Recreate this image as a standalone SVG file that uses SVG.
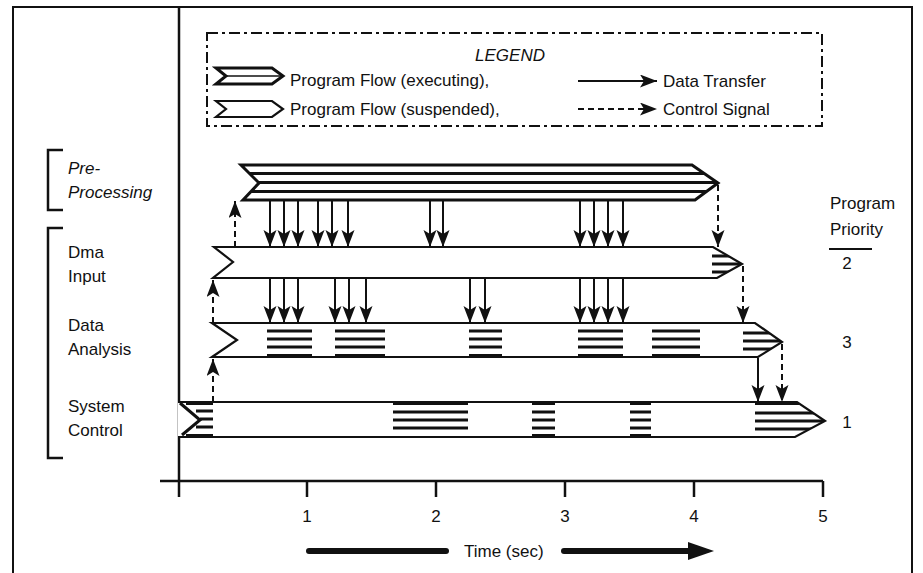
<svg xmlns="http://www.w3.org/2000/svg" width="923" height="573" viewBox="0 0 923 573">
<style>
  text { font-family: "Liberation Sans", Arial, sans-serif; font-size: 17px; fill: #111; }
  .it { font-style: italic; }
  .mid { text-anchor: middle; }
  .frame { fill: none; stroke: #111; stroke-width: 2; }
  .exec { fill: #fff; stroke: #111; stroke-width: 3; stroke-linejoin: miter; }
  .susp { fill: #fff; stroke: #111; stroke-width: 2.2; stroke-linejoin: miter; }
  .stripe { stroke: #111; stroke-width: 3.2; }
  .data { stroke: #111; stroke-width: 2; fill: none; marker-end: url(#head); }
  .ctrl { stroke: #111; stroke-width: 2; fill: none; stroke-dasharray: 6 4; marker-end: url(#head); }
  .legendbox { fill: none; stroke: #111; stroke-width: 2; stroke-dasharray: 11 4 3 4; }
</style>
<defs>
  <marker id="head" markerUnits="userSpaceOnUse" markerWidth="18" markerHeight="14" refX="17" refY="6.5" orient="auto">
    <path d="M0,0 L17,6.5 L0,13 L4,6.5 Z" fill="#111"/>
  </marker>
  <clipPath id="cPre"><path d="M241,165 L692,165 L718,183 L695,200 L243,200 L259,183 Z"/></clipPath>
  <clipPath id="cDma"><path d="M214,247 L713,247 L742,264 L717,278 L213,278 L233,262 Z"/></clipPath>
  <clipPath id="cDa"><path d="M212,323 L755,323 L782,342 L758,357 L212,357 L237,340 Z"/></clipPath>
  <clipPath id="cSc"><path d="M178,402 L797,402 L825,421 L795,437 L178,437 Z"/></clipPath>
  <clipPath id="cLeg"><path d="M216,68 L272,68 L283,76 L272,84 L216,84 L226,76 Z"/></clipPath>
</defs>

<!-- outer frame and axes -->
<g id="frame">
  <path class="frame" d="M13,580 L13,7 L912,7 L912,580"/>
  <line x1="179" y1="7" x2="179" y2="497" stroke="#111" stroke-width="2.5"/>
  <line x1="160" y1="481" x2="823" y2="481" stroke="#111" stroke-width="2.5"/>
  <g stroke="#111" stroke-width="2.5">
    <line x1="307" y1="481" x2="307" y2="497"/>
    <line x1="436" y1="481" x2="436" y2="497"/>
    <line x1="565" y1="481" x2="565" y2="497"/>
    <line x1="694" y1="481" x2="694" y2="497"/>
    <line x1="823" y1="481" x2="823" y2="497"/>
  </g>
  <text class="mid" x="307" y="522">1</text>
  <text class="mid" x="436" y="522">2</text>
  <text class="mid" x="565" y="522">3</text>
  <text class="mid" x="694" y="522">4</text>
  <text class="mid" x="823" y="522">5</text>
</g>

<!-- time arrow -->
<g id="time">
  <line x1="309" y1="551" x2="446" y2="551" stroke="#111" stroke-width="6" stroke-linecap="round"/>
  <text x="464" y="557">Time (sec)</text>
  <line x1="564" y1="551" x2="694" y2="551" stroke="#111" stroke-width="6" stroke-linecap="round"/>
  <path d="M688,542 L714,551 L688,560 Z" fill="#111"/>
</g>

<!-- legend -->
<g id="legend">
  <rect class="legendbox" x="207" y="33" width="615" height="93"/>
  <text class="it mid" x="510" y="61">LEGEND</text>
  <path class="exec" d="M216,68 L272,68 L283,76 L272,84 L216,84 L226,76 Z"/>
  <g clip-path="url(#cLeg)"><line x1="210" y1="76" x2="290" y2="76" stroke="#111" stroke-width="1.5"/></g>
  <text x="290" y="86">Program Flow (executing),</text>
  <path class="susp" d="M216,101 L272,101 L283,109 L272,117 L216,117 L226,109 Z"/>
  <text x="290" y="115">Program Flow (suspended),</text>
  <line class="data" x1="578" y1="81" x2="657" y2="81"/>
  <text x="663" y="87">Data Transfer</text>
  <line class="ctrl" x1="578" y1="109" x2="657" y2="109"/>
  <text x="663" y="115">Control Signal</text>
</g>

<!-- left labels -->
<g id="label-pre">
  <path d="M63,150 L48,150 L48,210 L63,210" fill="none" stroke="#111" stroke-width="2.5"/>
  <text class="it" x="68" y="174">Pre-</text>
  <text class="it" x="68" y="198">Processing</text>
</g>
<g id="label-proc">
  <path d="M63,228 L48,228 L48,458 L63,458" fill="none" stroke="#111" stroke-width="2.5"/>
  <text x="68" y="258">Dma</text>
  <text x="68" y="282">Input</text>
  <text x="68" y="331">Data</text>
  <text x="68" y="355">Analysis</text>
  <text x="68" y="412">System</text>
  <text x="68" y="436">Control</text>
</g>

<!-- right labels -->
<g id="priority">
  <text x="830" y="209">Program</text>
  <text x="830" y="235">Priority</text>
  <line x1="829" y1="249" x2="872" y2="249" stroke="#111" stroke-width="2"/>
  <text class="mid" x="847" y="269">2</text>
  <text class="mid" x="847" y="348">3</text>
  <text class="mid" x="847" y="428">1</text>
</g>

<!-- Pre-processing bar (executing) -->
<g id="bar-preprocessing">
  <path class="exec" d="M241,165 L692,165 L718,183 L695,200 L243,200 L259,183 Z"/>
  <g clip-path="url(#cPre)" class="stripe">
    <line x1="230" y1="173.5" x2="730" y2="173.5"/>
    <line x1="230" y1="182.5" x2="730" y2="182.5"/>
    <line x1="230" y1="191.5" x2="730" y2="191.5"/>
  </g>
</g>

<!-- Dma input bar -->
<g id="bar-dma">
  <path class="susp" d="M214,247 L713,247 L742,264 L717,278 L213,278 L233,262 Z"/>
  <g clip-path="url(#cDma)" class="stripe">
    <line x1="712" y1="256" x2="750" y2="256"/>
    <line x1="712" y1="264" x2="750" y2="264"/>
    <line x1="712" y1="272" x2="750" y2="272"/>
  </g>
</g>

<!-- Data analysis bar -->
<g id="bar-analysis">
  <path class="susp" d="M212,323 L755,323 L782,342 L758,357 L212,357 L237,340 Z"/>
  <g clip-path="url(#cDa)" class="stripe">
    <path d="M267,331 H312 M267,339 H312 M267,347 H312 M267,355.5 H312"/>
    <path d="M335,331 H385 M335,339 H385 M335,347 H385 M335,355.5 H385"/>
    <path d="M469,331 H502 M469,339 H502 M469,347 H502 M469,355.5 H502"/>
    <path d="M578,331 H623 M578,339 H623 M578,347 H623 M578,355.5 H623"/>
    <path d="M652,331 H700 M652,339 H700 M652,347 H700 M652,355.5 H700"/>
    <path d="M743,333 H790 M743,341 H790 M743,349 H790"/>
  </g>
</g>

<!-- System control bar -->
<g id="bar-system">
  <path class="susp" d="M178,402 L797,402 L825,421 L795,437 L178,437"/>
  <path d="M180,403 L200,420 L182,435" fill="none" stroke="#111" stroke-width="3"/>
  <g clip-path="url(#cSc)" class="stripe">
    <path d="M186,403.5 H213 M196,411 H213 M200,419 H213 M196,427 H213 M186,435.5 H213"/>
    <path d="M393,403.5 H468 M393,412 H468 M393,420 H468 M393,428 H468"/>
    <path d="M532,403.5 H555 M532,412 H555 M532,420 H555 M532,428 H555 M532,435.5 H555"/>
    <path d="M630,403.5 H651 M630,412 H651 M630,420 H651 M630,428 H651 M630,435.5 H651"/>
    <path d="M755,403.5 H830 M755,413 H830 M755,421 H830 M755,429 H830"/>
  </g>
</g>

<!-- connectors -->
<g id="connectors">
  <line class="data" x1="270" y1="200" x2="270" y2="247"/>
  <line class="data" x1="284" y1="200" x2="284" y2="247"/>
  <line class="data" x1="298" y1="200" x2="298" y2="247"/>
  <line class="data" x1="318" y1="200" x2="318" y2="247"/>
  <line class="data" x1="332" y1="200" x2="332" y2="247"/>
  <line class="data" x1="348" y1="200" x2="348" y2="247"/>
  <line class="data" x1="430" y1="200" x2="430" y2="247"/>
  <line class="data" x1="443" y1="200" x2="443" y2="247"/>
  <line class="data" x1="580" y1="200" x2="580" y2="247"/>
  <line class="data" x1="594" y1="200" x2="594" y2="247"/>
  <line class="data" x1="608" y1="200" x2="608" y2="247"/>
  <line class="data" x1="623" y1="200" x2="623" y2="247"/>

  <line class="data" x1="270" y1="278" x2="270" y2="323"/>
  <line class="data" x1="284" y1="278" x2="284" y2="323"/>
  <line class="data" x1="298" y1="278" x2="298" y2="323"/>
  <line class="data" x1="335" y1="278" x2="335" y2="323"/>
  <line class="data" x1="349" y1="278" x2="349" y2="323"/>
  <line class="data" x1="366" y1="278" x2="366" y2="323"/>
  <line class="data" x1="470" y1="278" x2="470" y2="323"/>
  <line class="data" x1="485" y1="278" x2="485" y2="323"/>
  <line class="data" x1="580" y1="278" x2="580" y2="323"/>
  <line class="data" x1="594" y1="278" x2="594" y2="323"/>
  <line class="data" x1="608" y1="278" x2="608" y2="323"/>
  <line class="data" x1="623" y1="278" x2="623" y2="323"/>

  <line class="data" x1="758" y1="358" x2="758" y2="402"/>

  <line class="ctrl" x1="718" y1="185" x2="718" y2="247"/>
  <line class="ctrl" x1="743" y1="266" x2="743" y2="323"/>
  <line class="ctrl" x1="782" y1="344" x2="782" y2="402"/>

  <line class="ctrl" x1="235" y1="247" x2="235" y2="201"/>
  <line class="ctrl" x1="213" y1="323" x2="213" y2="280"/>
  <line class="ctrl" x1="213" y1="402" x2="213" y2="359"/>
</g>
</svg>
